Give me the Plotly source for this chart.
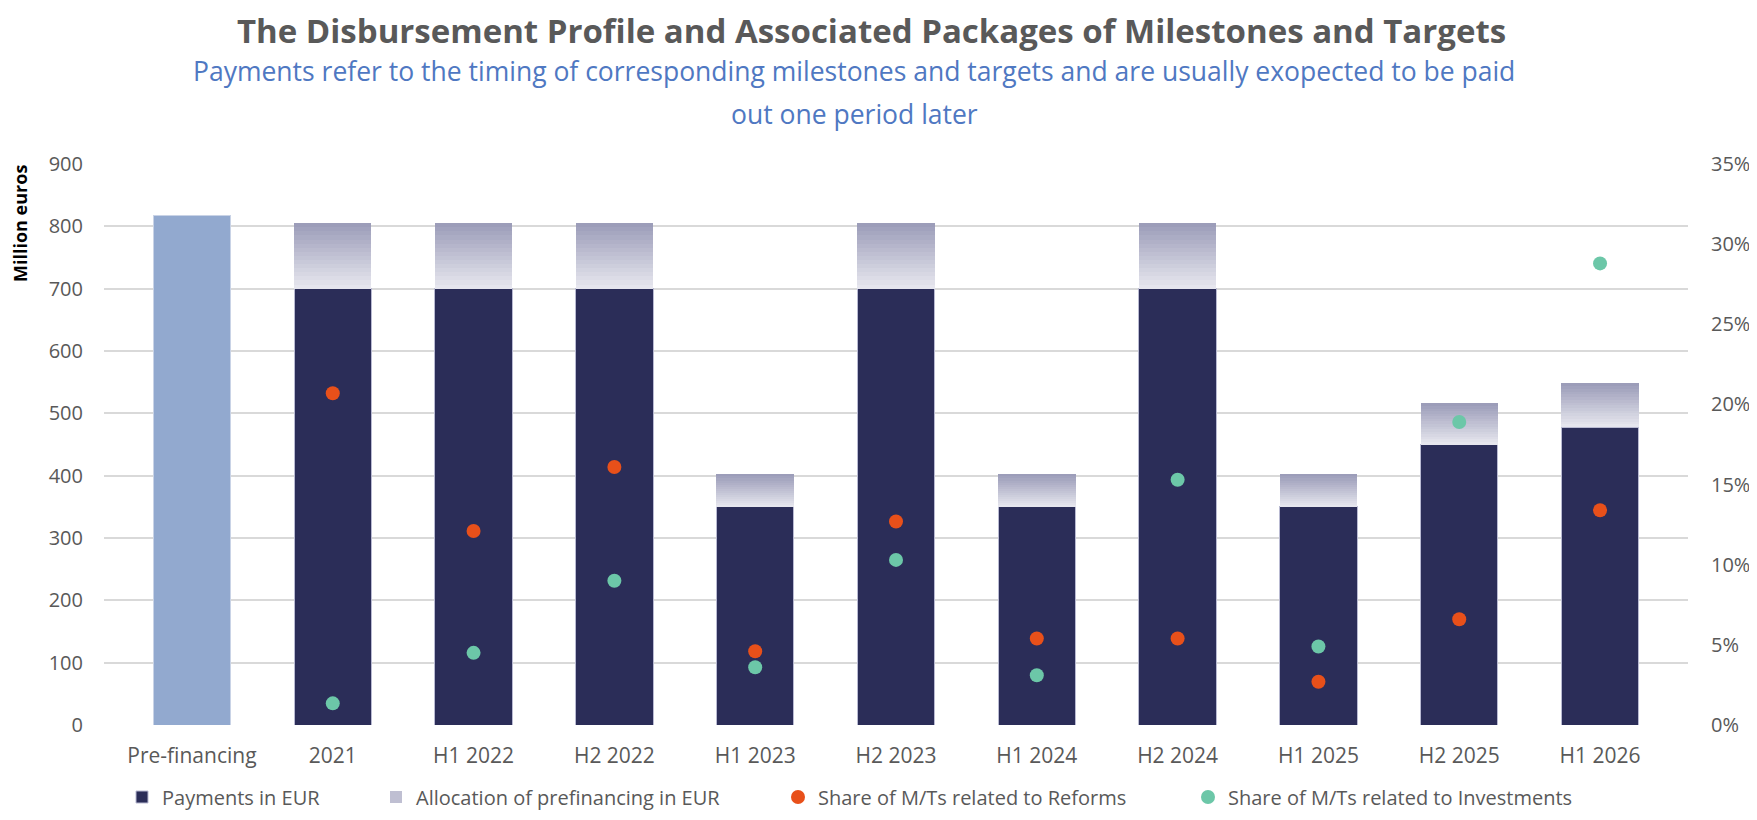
import plotly.graph_objects as go
from plotly.subplots import make_subplots

categories = ["Pre-financing", "2021", "H1 2022", "H2 2022", "H1 2023", "H2 2023",
              "H1 2024", "H2 2024", "H1 2025", "H2 2025", "H1 2026"]
prefinancing = [817, None, None, None, None, None, None, None, None, None, None]
payments = [None, 700, 700, 700, 350, 700, 350, 700, 350, 450, 478]
allocation = [None, 105, 105, 105, 52, 105, 52, 105, 52, 66, 70]
reforms_pct = [None, 20.7, 12.1, 16.1, 4.6, 12.7, 5.4, 5.4, 2.7, 6.6, 13.4]
investments_pct = [None, 1.35, 4.5, 9.0, 3.6, 10.3, 3.1, 15.3, 4.9, 18.9, 28.8]

FONT = "Open Sans"
GRAY = "#595959"
BLUE = "#4F78C2"

# page has an 8px body margin; figure is sized to fit inside the 1757x820 window
OFF = 8
W, H = 1757 - 2 * OFF, 820 - 2 * OFF
# target plot area in screenshot pixels
PL, PR, PT, PB = 104, 1688, 164, 725
ML, MR, MT, MB = PL - OFF, W - (PR - OFF), PT - OFF, H - (PB - OFF)
PW, PH = W - ML - MR, H - MT - MB


def px_x(x):
    return (x - OFF - ML) / PW


def px_y(y):
    return (H - MB - (y - OFF)) / PH


def cont_x(x):
    return (x - OFF) / W


def cont_y(y):
    return 1 - (y - OFF) / H


fig = make_subplots(specs=[[{"secondary_y": True}]])

fig.add_trace(go.Bar(x=categories, y=prefinancing,
                     marker=dict(color="#92A9CF", line=dict(width=1, color="#C9D3E6")),
                     showlegend=False, name="Pre-financing"), secondary_y=False)
fig.add_trace(go.Bar(x=categories, y=payments, name="Payments in EUR", legend="legend",
                     marker=dict(color="#2B2D58", line=dict(width=1, color="#B9BAD2"))),
              secondary_y=False)

# vertical gradient for the allocation segment, drawn as thin stacked slices
N = 16
top_rgb = (0x9C, 0x9D, 0xB9)
bot_rgb = (0xE6, 0xE6, 0xEE)
for k in range(N):
    t = k / (N - 1)
    c = tuple(int(round(bot_rgb[i] + (top_rgb[i] - bot_rgb[i]) * t)) for i in range(3))
    col = "rgb(%d,%d,%d)" % c
    ys = [None if a is None else a / N for a in allocation]
    fig.add_trace(go.Bar(x=categories, y=ys, name="Allocation of prefinancing in EUR",
                         marker=dict(color=col, line=dict(width=0)),
                         legend="legend2", legendgroup="alloc", showlegend=(k == N // 2),
                         hoverinfo="skip"), secondary_y=False)

fig.add_trace(go.Scatter(x=categories, y=[None if v is None else v / 100 for v in reforms_pct],
                         mode="markers", name="Share of M/Ts related to Reforms", legend="legend3",
                         marker=dict(color="#E8501A", size=14)), secondary_y=True)
fig.add_trace(go.Scatter(x=categories, y=[None if v is None else v / 100 for v in investments_pct],
                         mode="markers", name="Share of M/Ts related to Investments", legend="legend4",
                         marker=dict(color="#6CC7A8", size=14)), secondary_y=True)

LEG_Y = 797
text_starts = [162, 416, 818, 1228]


def leg(xtext):
    return dict(orientation="h", xref="container", yref="container",
                x=cont_x(xtext - 40), xanchor="left", y=cont_y(LEG_Y), yanchor="middle",
                font=dict(size=20, color=GRAY, family=FONT), itemwidth=30,
                bgcolor="rgba(0,0,0,0)")


fig.update_layout(
    width=W, height=H, autosize=False,
    barmode="stack", bargap=0.45,
    plot_bgcolor="white", paper_bgcolor="white",
    margin=dict(l=ML, r=MR, t=MT, b=MB, autoexpand=False),
    font=dict(family=FONT, color=GRAY, size=16),
    legend=leg(text_starts[0]),
    legend2=leg(text_starts[1]),
    legend3=leg(text_starts[2]),
    legend4=leg(text_starts[3]),
    annotations=[
        dict(text="<b>The Disbursement Profile and Associated Packages of Milestones and Targets</b>",
             xref="paper", yref="paper", x=px_x(871), y=px_y(30.5), xanchor="center", yanchor="middle",
             showarrow=False, font=dict(size=33, color=GRAY, family=FONT)),
        dict(text="Payments refer to the timing of corresponding milestones and targets and are usually exopected to be paid",
             xref="paper", yref="paper", x=px_x(854), y=px_y(71), xanchor="center", yanchor="middle",
             showarrow=False, font=dict(size=26.5, color=BLUE, family=FONT)),
        dict(text="out one period later",
             xref="paper", yref="paper", x=px_x(854), y=px_y(114), xanchor="center", yanchor="middle",
             showarrow=False, font=dict(size=26.5, color=BLUE, family=FONT)),
        dict(text="<b>Million euros</b>", textangle=-90,
             xref="paper", yref="paper", x=px_x(20), y=px_y(224), xanchor="center", yanchor="middle",
             showarrow=False, font=dict(size=18, color="#000000", family=FONT)),
    ],
)

fig.update_xaxes(domain=[0, 1], automargin=False, showgrid=False, showline=False, ticks="",
                 ticklabelstandoff=16, tickfont=dict(size=21, color=GRAY))
fig.update_yaxes(range=[0, 900], dtick=100, automargin=False, showgrid=True, gridcolor="#D9D9D9",
                 gridwidth=1.5, zeroline=False, showline=False, ticks="", ticklabelstandoff=20,
                 tickfont=dict(size=20, color=GRAY), secondary_y=False)
fig.update_yaxes(range=[0, 0.35], dtick=0.05, tickformat=".0%", automargin=False, showgrid=False,
                 zeroline=False, showline=False, ticks="", ticklabelstandoff=22,
                 tickfont=dict(size=20, color=GRAY), secondary_y=True)

fig.write_html("out.html")
